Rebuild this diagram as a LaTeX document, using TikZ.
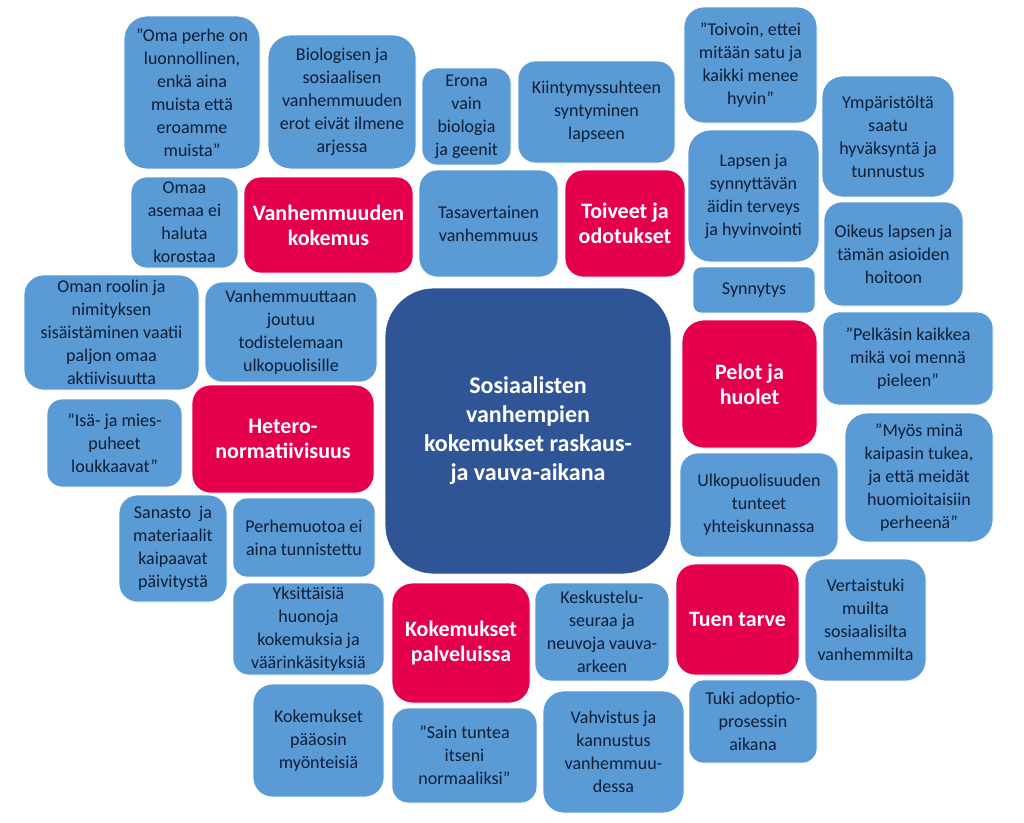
\documentclass[tikz,border=0pt]{standalone}
\usepackage{fontspec}
\setmainfont{Carlito}
\definecolor{lblue}{HTML}{5B9BD5}
\definecolor{dred}{HTML}{E4004F}
\definecolor{dblue}{HTML}{2F5597}
\definecolor{ink}{HTML}{0E1E36}
\newcommand\mybox[7]{%
  \pgfmathsetmacro\mbW{#5-#3}\pgfmathsetmacro\mbH{#6-#4}%
  \pgfmathsetmacro\mbR{0.17*min(\mbW,\mbH)}%
  \pgfmathsetmacro\mbX{(#3+#5)/2}\pgfmathsetmacro\mbY{-(#4+#6)/2}%
  \node[#1, minimum width=\mbW pt, minimum height=\mbH pt, rounded corners=\mbR pt] (#2) at (\mbX pt,\mbY pt) {#7};}
\tikzset{
  base/.style={rectangle, inner sep=0pt, outer sep=0pt, align=center},
  bl/.style={base, fill=lblue, draw=white, line width=0.8pt, text=ink, font=\fontsize{18}{23}\selectfont},
  rd/.style={base, fill=dred, draw=white, line width=0.8pt, text=white, font=\fontsize{22}{25}\selectfont\bfseries},
  ct/.style={base, fill=dblue, draw=white, line width=0.8pt, text=white, font=\fontsize{24}{29}\selectfont\bfseries}
}
\begin{document}
\begin{tikzpicture}[x=1pt,y=1pt]
\useasboundingbox (0,0) rectangle (1024,-822);
% center
\mybox{ct}{center}{385}{288}{671}{574}{Sosiaalisten\\vanhempien\\kokemukset raskaus-\\ja vauva-aikana}
% red themes
\mybox{rd}{vk}{244}{177}{413}{273}{Vanhemmuuden\\kokemus}
\mybox{rd}{to}{565}{170}{685}{277}{Toiveet ja\\odotukset}
\mybox{rd}{pe}{682}{320}{817}{448}{Pelot ja\\huolet}
\mybox{rd}{he}{192}{385}{374}{493}{Hetero-\\normatiivisuus}
\mybox{rd}{kp}{392}{583}{530}{703}{Kokemukset\\palveluissa}
\mybox{rd}{tt}{676}{564}{799}{675}{Tuen tarve}
% blue items
\mybox{bl}{om}{124}{16}{260}{169}{”Oma perhe on\\luonnollinen,\\enkä aina\\muista että\\eroamme\\muista”}
\mybox{bl}{bio}{268}{35}{416}{169}{Biologisen ja\\sosiaalisen\\vanhemmuuden\\erot eivät ilmene\\arjessa}
\mybox{bl}{ero}{422}{68}{511}{165}{Erona\\vain\\biologia\\ja geenit}
\mybox{bl}{kii}{518}{61}{675}{163}{Kiintymyssuhteen\\syntyminen\\lapseen}
\mybox{bl}{toi}{684}{7}{817}{123}{”Toivoin, ettei\\mitään satu ja\\kaikki menee\\hyvin”}
\mybox{bl}{ymp}{822}{76}{954}{197}{Ympäristöltä\\saatu\\hyväksyntä ja\\tunnustus}
\mybox{bl}{oma}{131}{177}{238}{268}{Omaa\\asemaa ei\\haluta\\korostaa}
\mybox{bl}{tas}{419}{170}{558}{277}{Tasavertainen\\vanhemmuus}
\mybox{bl}{lap}{688}{130}{819}{262}{Lapsen ja\\synnyttävän\\äidin terveys\\ja hyvinvointi}
\mybox{bl}{oik}{824}{202}{963}{306}{Oikeus lapsen ja\\tämän asioiden\\hoitoon}
\mybox{bl}{syn}{693}{267}{815}{313}{Synnytys}
\mybox{bl}{rol}{24}{275}{199}{390}{Oman roolin ja\\nimityksen\\sisäistäminen vaatii\\paljon omaa\\aktiivisuutta}
\mybox{bl}{van}{205}{282}{377}{382}{Vanhemmuuttaan\\joutuu\\todistelemaan\\ulkopuolisille}
\mybox{bl}{pel}{823}{312}{993}{405}{”Pelkäsin kaikkea\\mikä voi mennä\\pieleen”}
\mybox{bl}{isa}{47}{399}{182}{487}{”Isä- ja mies-\\puheet\\loukkaavat”}
\mybox{bl}{myo}{845}{413}{993}{542}{”Myös minä\\kaipasin tukea,\\ja että meidät\\huomioitaisiin\\perheenä”}
\mybox{bl}{ulk}{680}{453}{838}{557}{Ulkopuolisuuden\\tunteet\\yhteiskunnassa}
\mybox{bl}{san}{119}{495}{227}{602}{Sanasto\ \ ja\\materiaalit\\kaipaavat\\päivitystä}
\mybox{bl}{per}{233}{498}{375}{577}{Perhemuotoa ei\\aina tunnistettu}
\mybox{bl}{yks}{233}{583}{384}{675}{Yksittäisiä\\huonoja\\kokemuksia ja\\väärinkäsityksiä}
\mybox{bl}{kes}{535}{583}{669}{681}{Keskustelu-\\seuraa ja\\neuvoja vauva-\\arkeen}
\mybox{bl}{ver}{805}{559}{926}{681}{Vertaistuki\\muilta\\sosiaalisilta\\vanhemmilta}
\mybox{bl}{pos}{253}{684}{384}{797}{Kokemukset\\pääosin\\myönteisiä}
\mybox{bl}{sai}{392}{708}{537}{803}{”Sain tuntea\\itseni\\normaaliksi”}
\mybox{bl}{vah}{543}{691}{684}{813}{Vahvistus ja\\kannustus\\vanhemmuu-\\dessa}
\mybox{bl}{tuk}{689}{680}{817}{763}{Tuki adoptio-\\prosessin\\aikana}
\end{tikzpicture}
\end{document}
